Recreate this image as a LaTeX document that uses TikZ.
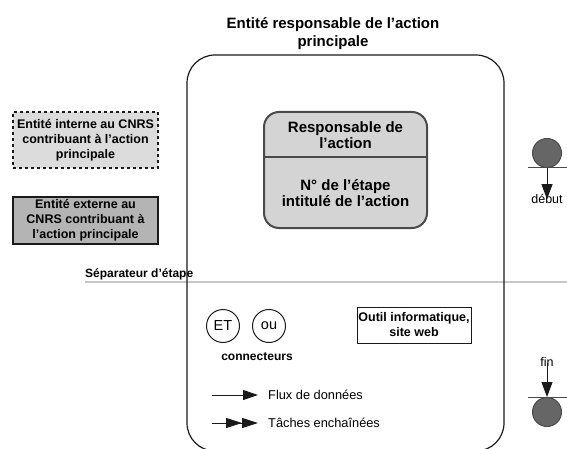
\documentclass[tikz,border=0pt]{standalone}
\usepackage{fontspec}
\setmainfont{Liberation Sans}
\usepackage{xcolor}
\definecolor{legend-ink}{HTML}{1A1A1A}
\definecolor{legend-light}{HTML}{DCDCDC}
\definecolor{legend-dark}{HTML}{B4B4B4}
\definecolor{legend-step}{HTML}{D4D4D4}
\definecolor{legend-edge}{HTML}{4A4A4A}
\definecolor{legend-disc}{HTML}{666666}
\definecolor{legend-rule}{HTML}{C8C8C8}
\usepackage{tikz}
\usetikzlibrary{arrows.meta}

\tikzset{
    boldtext/.style={font=\fontsize{12.5}{15}\selectfont\bfseries, align=center, inner sep=0pt},
    plaintext/.style={font=\fontsize{12.8}{15}\selectfont, inner sep=0pt},
    entitybox/.style={line width=1.2pt, minimum width=145pt, align=center, inner sep=0pt, font=\fontsize{12.5}{15}\selectfont\bfseries},
    connector/.style={draw=legend-ink, line width=1pt, circle, minimum size=33pt, inner sep=0pt, font=\fontsize{14.5}{17}\selectfont},
    disc/.style={draw=legend-edge, fill=legend-disc, line width=1pt, circle, minimum size=29pt, inner sep=0pt},
    tip/.style={-{Triangle[length=15pt,width=10pt]}, line width=1pt, legend-ink},
}

\begin{document}
\begin{tikzpicture}[x=1pt, y=-1pt]

    \useasboundingbox (0, 0) rectangle (567, 449);

    % Separator
    \coordinate (sep-left) at (85, 282);
    \coordinate (sep-right) at (567, 282);
    \draw[legend-rule, line width=2pt] (sep-left) -- (sep-right);
    \node[boldtext, font=\fontsize{12}{14}\selectfont\bfseries, anchor=base west] (sep) at (85, 277) {Séparateur d'étape};

    % Responsible entity
    \draw[legend-ink, line width=1.2pt, rounded corners=28pt] (187, 55) rectangle (504, 451);
    \node[boldtext, font=\fontsize{15}{18}\selectfont\bfseries] (titre) at (333, 34) {Entité responsable de l'action\\principale};

    % Contributing entities
    \node[entitybox, draw=legend-ink, dashed, fill=legend-light, minimum height=56pt] (interne) at (85.5, 140) {Entité interne au CNRS\\contribuant à l'action\\principale};
    \node[entitybox, draw=legend-ink, fill=legend-dark, minimum height=47pt] (externe) at (85.5, 220.5) {Entité externe au\\CNRS contribuant à\\l'action principale};

    % Step
    \node[draw=legend-edge, fill=legend-step, line width=2pt, rounded corners=15pt, minimum width=163pt, minimum height=116pt] (action) at (345.5, 170) {};
    \draw[legend-edge, line width=1.6pt] (action.west |- 0,157) -- (action.east |- 0,157);
    \node[boldtext, font=\fontsize{15}{16.5}\selectfont\bfseries] (resp) at (345.5, 135) {Responsable de\\l'action};
    \node[boldtext, font=\fontsize{15}{16.5}\selectfont\bfseries] (etape) at (345.5, 193) {N° de l'étape\\intitulé de l'action};

    % Start
    \node[disc] (debut) at (547, 153) {};
    \coordinate (debut-left) at (528, 168);
    \coordinate (debut-right) at (567, 168);
    \coordinate (debut-top) at (547, 168);
    \draw[legend-edge, line width=1pt] (debut-left) -- (debut-right);
    \node[plaintext, font=\fontsize{12.5}{15}\selectfont] (debut-label) at (547, 199) {début};
    \draw[tip, -{Triangle[length=15pt,width=11pt]}] (debut-top) -- ([yshift=-5pt]debut-label.north);

    % Connectors
    \node[connector] (et) at (223, 326) {ET};
    \node[connector] (ou) at (269, 326) {ou};
    \node[boldtext, font=\fontsize{12}{14}\selectfont\bfseries] (connecteurs) at (257, 357) {connecteurs};

    % Tool
    \node[entitybox, draw=legend-ink, minimum width=114pt, minimum height=36pt, line width=1pt] (outil) at (414, 325) {Outil informatique,\\site web};

    % Flows
    \coordinate (flux-start) at (212, 395);
    \node[plaintext, anchor=west] (flux) at (268, 395) {Flux de données};
    \draw[tip] (flux-start) -- ([xshift=-10pt]flux.west);

    \coordinate (taches-start) at (212, 423);
    \node[plaintext, anchor=west] (taches) at (268, 423) {Tâches enchaînées};
    \draw[tip, -{Triangle[length=16pt,width=10pt] Triangle[length=16pt,width=10pt]}] (taches-start) -- ([xshift=-10pt]taches.west);

    % End
    \node[plaintext, font=\fontsize{12.5}{15}\selectfont] (fin-label) at (547, 362) {fin};
    \coordinate (fin-left) at (528, 397);
    \coordinate (fin-right) at (567, 397);
    \coordinate (fin-bottom) at (547, 397);
    \draw[legend-edge, line width=1pt] (fin-left) -- (fin-right);
    \draw[tip, -{Triangle[length=15pt,width=11pt]}] ([yshift=4pt]fin-label.south) -- (fin-bottom);
    \node[disc] (fin) at (547, 412) {};

\end{tikzpicture}
\end{document}
